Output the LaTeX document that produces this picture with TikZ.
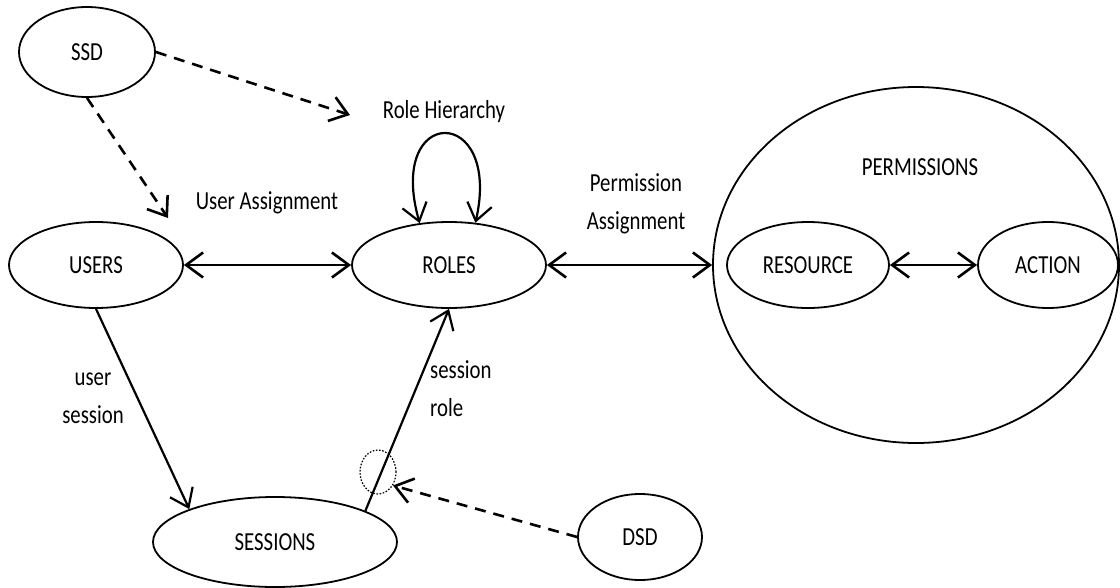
\documentclass[tikz,border=0pt]{standalone}
\usepackage{fontspec}
\setmainfont{Carlito}[FakeStretch=0.8]
\usetikzlibrary{shapes.geometric,arrows.meta}

\begin{document}
\begin{tikzpicture}[x=1pt,y=-1pt,
  font=\fontsize{26}{38}\selectfont,
  ent/.style={ellipse,draw,line width=1.8pt,inner sep=0pt},
  vtip/.tip={Straight Barb[length=17pt,width=25pt]},
  link/.style={line width=2.2pt,-vtip},
  bilink/.style={line width=2.6pt,vtip-vtip},
  conflict/.style={line width=2.6pt,dash pattern=on 11pt off 8pt,-vtip},
  lbl/.style={inner sep=0pt},
]
\useasboundingbox (0,0) rectangle (1120,587);

% entities
\node[ent,minimum width=136pt,minimum height=90pt] (ssd) at (87,52) {SSD};
\node[ent,minimum width=174pt,minimum height=86pt] (users) at (96,265) {USERS};
\node[ent,minimum width=194pt,minimum height=86pt] (roles) at (449,265) {ROLES};
\node[ent,minimum width=244pt,minimum height=90pt] (sessions) at (275,542) {SESSIONS};
\node[ent,minimum width=124pt,minimum height=86pt] (dsd) at (640,537) {DSD};
\node[ent,minimum width=406pt,minimum height=356pt] (perm) at (916,265) {};
\node[lbl] (permlabel) at (920,167) {PERMISSIONS};
\node[ent,minimum width=162pt,minimum height=86pt] (resource) at (808,265) {RESOURCE};
\node[ent,minimum width=140pt,minimum height=86pt] (action) at (1048,265) {ACTION};

% dotted mark on the session-role link
\node[ellipse,draw,line width=1.2pt,dash pattern=on 1.6pt off 1.6pt,
      minimum width=36pt,minimum height=44pt,inner sep=0pt] (dsdmark) at (378,472) {};

% labels
\node[lbl] (ualabel) at (267,203) {User Assignment};
\node[lbl] (rhlabel) at (444,112) {Role Hierarchy};
\node[lbl,align=center] (palabel) at (636,204) {Permission\\Assignment};
\node[lbl,align=center] (uslabel) at (93,398) {user\\session};
\node[lbl,align=left,anchor=west] (srlabel) at (430,389) {session\\role};

% free ends of the SSD constraints
\coordinate (ssdrh) at (350,115);
\coordinate (ssdua) at (168,218);

% relations
\draw[bilink] (users.east) -- (roles.west);
\draw[bilink] (roles.east) -- (perm.west);
\draw[bilink] (resource.east) -- (action.west);
\draw[link] (users.south) -- (sessions.159);
\draw[link] (sessions.19) -- (roles.south);
\draw[line width=2.2pt,vtip-vtip] (roles.125) .. controls +(-34,-119) and +(27,-119) .. (roles.58);

% constraints
\draw[conflict] (ssd.east) -- (ssdrh);
\draw[conflict] (ssd.south) -- (ssdua);
\draw[conflict] (dsd.west) -- (dsdmark.-42);
\end{tikzpicture}
\end{document}
